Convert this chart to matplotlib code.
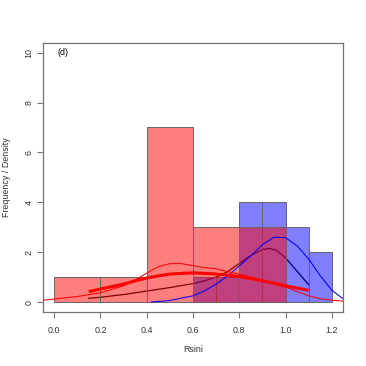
import numpy as np
import matplotlib
matplotlib.use("Agg")
import matplotlib.pyplot as plt

plt.rcParams['font.family'] = ['Liberation Sans', 'DejaVu Sans']

# Histogram data
red_edges = [0.0, 0.2, 0.4, 0.6, 0.8, 1.0]
red_counts = [1, 1, 7, 3, 3]
blue_edges = [0.6, 0.7, 0.8, 0.9, 1.0, 1.1, 1.2]
blue_counts = [1, 1, 4, 4, 3, 2]

# Thin red density curve
red_dens_x = [-0.05, 0.0, 0.1, 0.2, 0.3, 0.35, 0.4, 0.45, 0.5, 0.55, 0.6, 0.65,
              0.7, 0.75, 0.8, 0.85, 0.9, 0.95, 1.0, 1.05, 1.1, 1.15, 1.2, 1.25]
red_dens_y = [0.07, 0.12, 0.22, 0.37, 0.65, 0.88, 1.16, 1.42, 1.54, 1.54, 1.46, 1.38,
              1.33, 1.22, 1.12, 1.0, 0.88, 0.74, 0.6, 0.42, 0.25, 0.13, 0.07, 0.04]

# Thick red fitted curve
red_fit_x = [0.15, 0.2, 0.3, 0.35, 0.4, 0.45, 0.5, 0.55, 0.6, 0.65, 0.7, 0.75,
             0.8, 0.85, 0.9, 0.95, 1.0, 1.05, 1.1]
red_fit_y = [0.42, 0.52, 0.72, 0.85, 0.96, 1.05, 1.12, 1.15, 1.17, 1.15, 1.12, 1.08,
             1.02, 0.94, 0.85, 0.75, 0.65, 0.56, 0.47]

# Black curve
black_x = [0.15, 0.2, 0.3, 0.4, 0.5, 0.6, 0.65, 0.7, 0.75, 0.8, 0.85, 0.9, 0.93,
           0.96, 1.0, 1.1]
black_y = [0.15, 0.19, 0.3, 0.44, 0.58, 0.74, 0.85, 1.0, 1.22, 1.55, 1.87, 2.1, 2.15,
           2.07, 1.77, 0.69]

# Blue density curve
blue_dens_x = [0.42, 0.5, 0.6, 0.65, 0.7, 0.75, 0.8, 0.85, 0.9, 0.95, 1.0, 1.05,
               1.1, 1.15, 1.2, 1.25]
blue_dens_y = [0.0, 0.06, 0.25, 0.45, 0.72, 1.05, 1.45, 1.85, 2.3, 2.6, 2.58, 2.25,
               1.72, 1.05, 0.47, 0.12]

x_ticks = [0.0, 0.2, 0.4, 0.6, 0.8, 1.0, 1.2]
y_ticks = [0, 2, 4, 6, 8, 10]

W = 366
fig = plt.figure(figsize=(3.66, 3.66), dpi=100)
ax = fig.add_axes([43 / W, (W - 312) / W, 300 / W, 269.3 / W])

edge = (0.4, 0.4, 0.4)

ax.plot(black_x, black_y, color='black', lw=0.9, zorder=1)

ax.bar(blue_edges[:-1], blue_counts, width=np.diff(blue_edges), align='edge',
       color=(0, 0, 1, 0.5), edgecolor=edge, linewidth=0.7, zorder=2)
ax.bar(red_edges[:-1], red_counts, width=np.diff(red_edges), align='edge',
       color=(1, 0, 0, 0.5), edgecolor=edge, linewidth=0.7, zorder=3)

ax.plot(blue_dens_x, blue_dens_y, color='blue', lw=0.75, zorder=4)
ax.plot(red_dens_x, red_dens_y, color='red', lw=0.75, zorder=5)
ax.plot(red_fit_x, red_fit_y, color='red', lw=2.2, zorder=6, solid_capstyle='butt')

ax.text(0.04, 10, '(d)', ha='center', va='center', fontsize=6.4)

ax.set_xlim(-0.048, 1.248)
ax.set_ylim(-0.4, 10.4)
ax.set_xticks(x_ticks)
ax.set_xticklabels([f'{v:.1f}' for v in x_ticks])
ax.set_yticks(y_ticks)
ax.set_yticklabels([str(v) for v in y_ticks], rotation=90, va='center')

for s in ax.spines.values():
    s.set_color('0.45')
    s.set_linewidth(0.9)
ax.tick_params(axis='both', direction='out', length=4, width=0.8, color='0.45',
               labelsize=6.4, labelcolor='0.2')
ax.tick_params(axis='x', pad=6)
ax.tick_params(axis='y', pad=3)

fig.text(7 / W, 1 - 177.5 / W, 'Frequency / Density', rotation=90, ha='center',
         va='center', fontsize=6.4, color='0.2')
fig.text(193.5 / W, 1 - 350 / W, 'Rsini', ha='center', va='center', fontsize=6.4,
         color='0.2')

fig.savefig('out.png', dpi=100)
